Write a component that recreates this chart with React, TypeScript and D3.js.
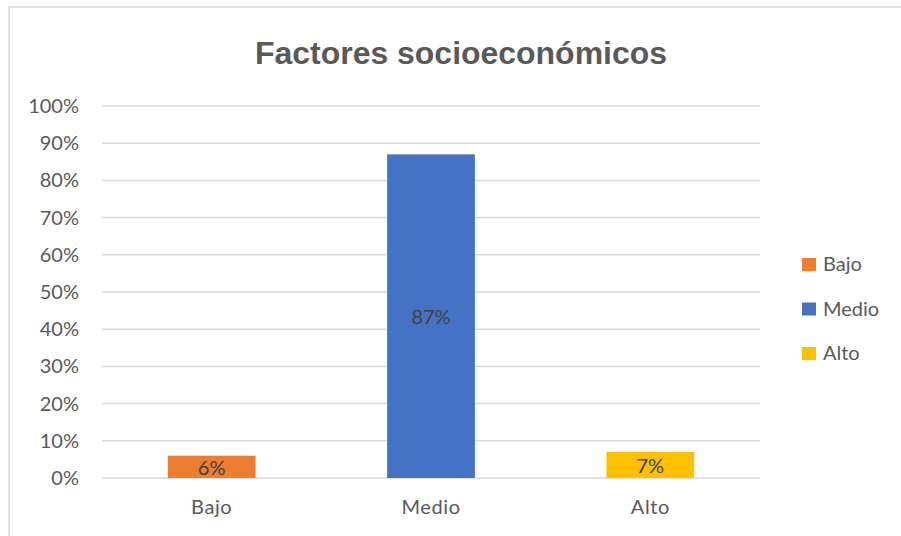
import React, { useRef, useEffect } from "react";
import * as d3 from "d3";

const width = 901;
const height = 536;

const categories = ["Bajo", "Medio", "Alto"];
const values = [0.06, 0.87, 0.07];
const colors = ["#ED7D31", "#4472C4", "#FFC000"];
const yTicks = [0, 0.1, 0.2, 0.3, 0.4, 0.5, 0.6, 0.7, 0.8, 0.9, 1];
const title = "Factores socioeconómicos";

const margin = { top: 106, right: 141, bottom: 58, left: 102 };

export default function App() {
  const svgRef = useRef<SVGSVGElement>(null);

  useEffect(() => {
    const svg = d3.select(svgRef.current);
    svg.selectAll("*").remove();

    const x = d3
      .scaleBand()
      .domain(categories)
      .range([margin.left, width - margin.right])
      .padding(0);
    const y = d3
      .scaleLinear()
      .domain([0, 1])
      .range([height - margin.bottom, margin.top]);
    const color = d3.scaleOrdinal<string>().domain(categories).range(colors);
    const pct = d3.format(".0%");

    // chart frame (only left and top edges fall inside the picture)
    svg
      .append("rect")
      .attr("x", 9)
      .attr("y", 7)
      .attr("width", width + 40)
      .attr("height", height + 40)
      .attr("fill", "none")
      .attr("stroke", "#D9D9D9")
      .attr("stroke-width", 1.5);

    svg
      .append("text")
      .attr("x", 461)
      .attr("y", 64)
      .attr("text-anchor", "middle")
      .attr("font-family", "Liberation Sans, Arial, sans-serif")
      .attr("font-weight", "bold")
      .attr("font-size", 31)
      .attr("textLength", 412)
      .attr("lengthAdjust", "spacingAndGlyphs")
      .attr("fill", "#595959")
      .text(title);

    // grid
    svg
      .append("g")
      .selectAll("line")
      .data(yTicks)
      .enter()
      .append("line")
      .attr("x1", margin.left)
      .attr("x2", width - margin.right)
      .attr("y1", d => y(d))
      .attr("y2", d => y(d))
      .attr("stroke", "#D9D9D9")
      .attr("stroke-width", 1.5);

    svg
      .append("g")
      .selectAll("text")
      .data(yTicks)
      .enter()
      .append("text")
      .attr("x", 79)
      .attr("y", d => y(d) + 7)
      .attr("text-anchor", "end")
      .attr("font-family", "Lato, sans-serif")
      .attr("font-size", 20)
      .attr("fill", "#595959")
      .text(d => pct(d));

    const bw = x.bandwidth() * 0.4;

    svg
      .append("g")
      .selectAll("rect")
      .data(values)
      .enter()
      .append("rect")
      .attr("x", (d, i) => x(categories[i])! + (x.bandwidth() - bw) / 2)
      .attr("y", d => y(d))
      .attr("width", bw)
      .attr("height", d => y(0) - y(d))
      .attr("fill", (d, i) => color(categories[i]));

    svg
      .append("g")
      .selectAll("text")
      .data(values)
      .enter()
      .append("text")
      .attr("x", (d, i) => x(categories[i])! + x.bandwidth() / 2)
      .attr("y", d => (y(d) + y(0)) / 2 + 8)
      .attr("text-anchor", "middle")
      .attr("font-family", "Lato, sans-serif")
      .attr("font-size", 20)
      .attr("fill", "#404040")
      .text(d => pct(d));

    // category labels
    svg
      .append("g")
      .selectAll("text")
      .data(categories)
      .enter()
      .append("text")
      .attr("x", d => x(d)! + x.bandwidth() / 2)
      .attr("y", 514)
      .attr("text-anchor", "middle")
      .attr("font-family", "Lato, sans-serif")
      .attr("font-size", 20)
      .attr("letter-spacing", 0.6)
      .attr("fill", "#595959")
      .text(d => d);

    // legend
    const legend = svg
      .append("g")
      .selectAll("g")
      .data(categories)
      .enter()
      .append("g")
      .attr("transform", (d, i) => "translate(802," + (258 + i * 44.5) + ")");
    legend
      .append("rect")
      .attr("width", 14)
      .attr("height", 13)
      .attr("fill", d => color(d));
    legend
      .append("text")
      .attr("x", 21)
      .attr("y", 13)
      .attr("font-family", "Lato, sans-serif")
      .attr("font-size", 20)
      .attr("fill", "#595959")
      .text(d => d);
  }, []);

  return (
    <svg
      ref={svgRef}
      width={width}
      height={height}
      style={{ position: "absolute", left: 0, top: 0, background: "#fff" }}
    ></svg>
  );
}
